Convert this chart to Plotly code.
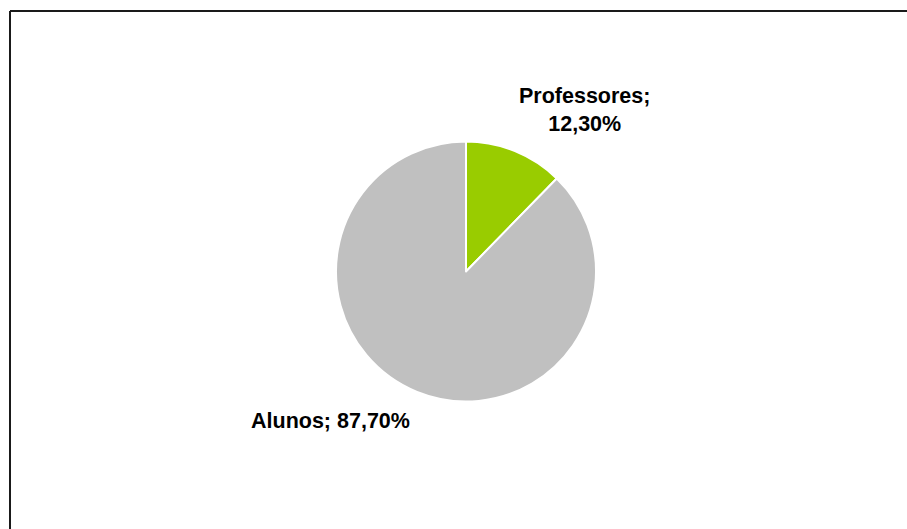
import plotly.graph_objects as go

# Participant breakdown
categories = ["Professores", "Alunos"]
shares = [12.30, 87.70]
colors = ["#99CC00", "#C0C0C0"]

W, H = 907, 529


def fmt(v):
    return f"{v:.2f}".replace(".", ",") + "%"


fig = go.Figure(
    go.Pie(
        labels=categories,
        values=shares,
        sort=False,
        direction="clockwise",
        rotation=0,
        marker=dict(colors=colors, line=dict(color="white", width=2)),
        textinfo="none",
        hoverinfo="label+percent",
        showlegend=False,
        domain=dict(x=[(466 - 130) / W, (466 + 130) / W],
                    y=[(H - 271.5 - 130) / H, (H - 271.5 + 130) / H]),
    )
)

font = dict(family="Liberation Sans, Arial, sans-serif", size=21.5, color="#000000")

# Data labels placed around the pie
fig.add_annotation(
    x=584 / W, y=1 - 110 / H, xref="paper", yref="paper",
    xanchor="center", yanchor="middle",
    text=f"<b>{categories[0]};<br>{fmt(shares[0])}</b>",
    showarrow=False, font=font, align="center",
)
fig.add_annotation(
    x=330 / W, y=1 - 421 / H, xref="paper", yref="paper",
    xanchor="center", yanchor="middle",
    text=f"<b>{categories[1]}; {fmt(shares[1])}</b>",
    showarrow=False, font=font, align="center",
)

# Chart area frame (top and left edges visible)
frame = dict(color="#1a1a1a", width=2)
fig.add_shape(type="line", xref="paper", yref="paper",
              x0=10 / W, x1=1.01, y0=1 - 11 / H, y1=1 - 11 / H, line=frame)
fig.add_shape(type="line", xref="paper", yref="paper",
              x0=10 / W, x1=10 / W, y0=1 - 11 / H, y1=-0.01, line=frame)

fig.update_layout(
    width=W, height=H,
    margin=dict(l=0, r=0, t=0, b=0),
    paper_bgcolor="white",
    plot_bgcolor="white",
)

fig.write_html("out.html")
